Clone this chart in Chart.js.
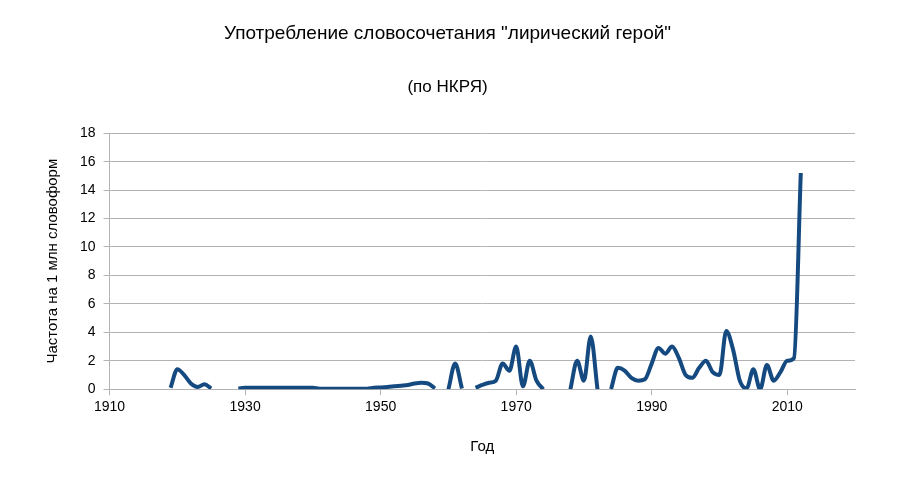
<!DOCTYPE html>
<html><head><meta charset="utf-8">
<script src="https://cdn.jsdelivr.net/npm/chart.js@4/dist/chart.umd.min.js"></script>
<style>html,body{margin:0;background:#fff}#c{width:900px;height:480px}</style>
</head><body><div id="c"><canvas id="cv" width="900" height="480"></canvas></div>
<script>
const years = [];
for (let y = 1919; y <= 2012; y++) years.push(y);
const values = [
 0.1,1.4,1.0,0.4,0.15,0.35,0.05, null,null,null,            // 1919-1928
 0.05,0.1,0.1,0.1,0.1,0.1,0.1,0.1,0.1,0.1,0.1,0.1,           // 1929-1940
 0.03,0.03,0.03,0.03,0.03,0.03,0.03,0.03,                    // 1941-1948
 0.1,0.12,0.15,0.2,0.25,0.3,0.4,0.45,0.4,0.05, null,         // 1949-1959
 0,1.8,0.05, null,                                           // 1960-1963
 0.1,0.3,0.45,0.6,1.8,1.3,3.0,0.2,2.0,0.6,0, null,null,null, // 1964-1977
 0,2.0,0.6,3.7,0, null,                                      // 1978-1983
 0,1.5,1.3,0.8,0.6,0.7,1.8,2.9,2.5,3.0,2.2,1.0,0.8,1.5,2.0,1.2,1.0,4.1,2.8,0.6,0.05,1.4,0,1.7,0.6,1.2,2.0,2.2,15.2 // 1984-2012
];
const xTicks = [1910,1930,1950,1970,1990,2010];
const yTicks = [0,2,4,6,8,10,12,14,16,18];
const pts = years.map((y,i)=>({x:y,y:values[i]}));
const font = "'Liberation Sans', Arial, sans-serif";
new Chart(document.getElementById('cv'), {
 type:'line',
 data:{datasets:[{data:pts,borderColor:'#154a80',borderWidth:4,pointRadius:0,tension:0.4,spanGaps:false,cubicInterpolationMode:'monotone'}]},
 options:{
  responsive:false,animation:false,
  layout:{padding:{left:40,right:45,top:14,bottom:20}},
  plugins:{legend:{display:false},tooltip:{enabled:false},
   title:{display:true,text:'Употребление словосочетания "лирический герой"',color:'#000',font:{family:font,size:19,weight:'normal'},padding:{top:8,bottom:16}},
   subtitle:{display:true,text:'(по НКРЯ)',color:'#000',font:{family:font,size:17,weight:'normal'},padding:{top:16,bottom:36}}},
  scales:{
   x:{type:'linear',min:1910,max:2020,
     afterBuildTicks:s=>{s.ticks=xTicks.map(v=>({value:v}));},
     ticks:{color:'#000',font:{family:font,size:14},padding:4,callback:v=>String(v)},
     grid:{display:true,drawOnChartArea:false,color:'#b3b3b3',tickLength:6},
     border:{color:'#b3b3b3'},
     title:{display:true,text:'Год',color:'#000',font:{family:font,size:15},padding:{top:18}}},
   y:{min:0,max:18,
     afterBuildTicks:s=>{s.ticks=yTicks.map(v=>({value:v}));},
     ticks:{color:'#000',font:{family:font,size:14},padding:8},
     grid:{color:'#b3b3b3',tickLength:6},
     border:{color:'#b3b3b3'},
     title:{display:true,text:'Частота на 1 млн словоформ',color:'#000',font:{family:font,size:15},padding:{bottom:10}}}
  }
 }
});
</script></body></html>
